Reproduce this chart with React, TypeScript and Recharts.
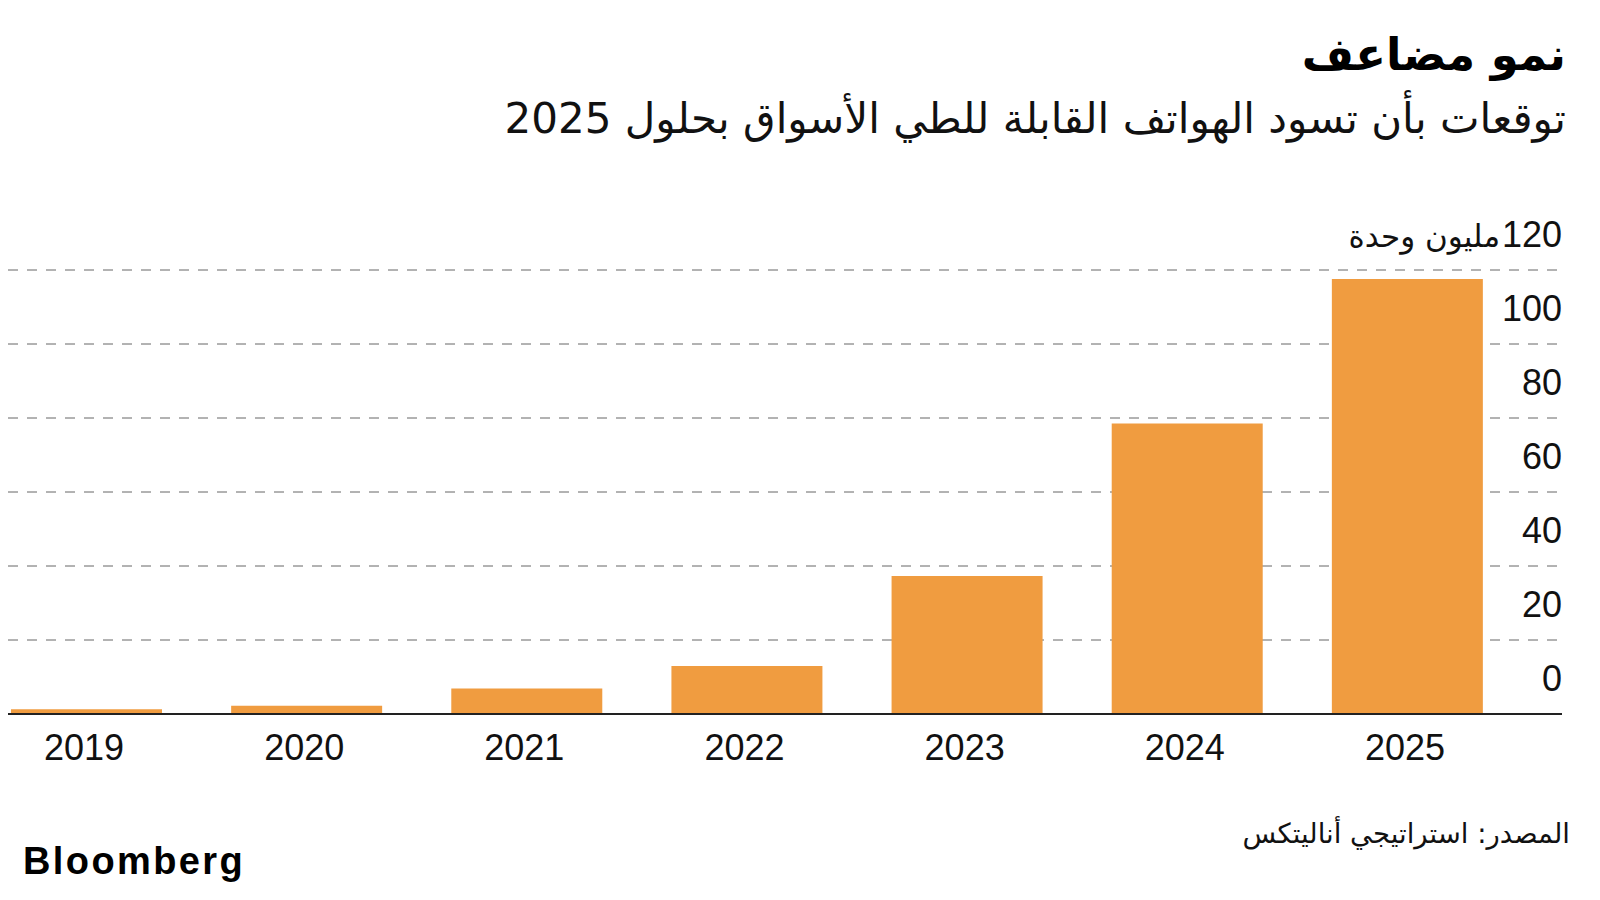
import React from 'react'
import { BarChart, Bar, XAxis, YAxis, CartesianGrid } from 'recharts'

// foldable phone shipments, million units
const years = ['2019', '2020', '2021', '2022', '2023', '2024', '2025']
const units = [1.3, 2.2, 6.9, 13.0, 37.3, 78.5, 117.6]
const yTicks = [0, 20, 40, 60, 80, 100, 120]

const TITLE = 'نمو مضاعف'
const SUBTITLE = 'توقعات بأن تسود الهواتف القابلة للطي الأسواق بحلول 2025'
const UNIT = 'مليون وحدة'
const SOURCE = 'المصدر: استراتيجي أناليتكس'

const LATIN = "'Liberation Sans', Arial, sans-serif"
const ARABIC = "'DejaVu Sans', 'Noto Sans', sans-serif"
const ORANGE = '#F09C40'

const data = years.map((year, i) => ({ year, value: units[i] }))

function YTick(props: any) {
  const { x, y, payload } = props
  const v = payload.value
  return (
    <g>
      <text x={x} y={y - 23} textAnchor="end" fontSize={36} fontFamily={LATIN} fill="#111">
        {v}
      </text>
      {v === 120 && (
        <text x={x - 62} y={y - 23} textAnchor="end" fontSize={31} fontFamily={ARABIC} fill="#111">
          {UNIT}
        </text>
      )}
    </g>
  )
}

function XTick(props: any) {
  const { x, y, payload } = props
  return (
    <text x={x - 2} y={y + 46} textAnchor="middle" fontSize={36} fontFamily={LATIN} fill="#111">
      {payload.value}
    </text>
  )
}

export default function App() {
  return (
    <div style={{ position: 'absolute', top: 0, left: 0, width: 1600, height: 900, background: '#fff' }}>
      <div
        dir="rtl"
        style={{
          position: 'absolute', right: 34, top: 27, fontFamily: ARABIC,
          fontWeight: 700, fontSize: 45, lineHeight: '56px', color: '#000',
        }}
      >
        {TITLE}
      </div>
      <div
        dir="rtl"
        style={{
          position: 'absolute', right: 34, top: 93, fontFamily: ARABIC,
          fontSize: 42, lineHeight: '52px', color: '#111', whiteSpace: 'nowrap',
        }}
      >
        {SUBTITLE}
      </div>

      <BarChart
        width={1600}
        height={900}
        data={data}
        margin={{ top: 270, right: 37, bottom: 185, left: 8 }}
        style={{ position: 'absolute', top: 0, left: 0 }}
      >
        <CartesianGrid vertical={false} stroke="#666" strokeDasharray="10 9" strokeWidth={1} />
        <XAxis
          dataKey="year"
          height={1}
          tick={<XTick />}
          tickLine={false}
          tickSize={0}
          tickMargin={0}
          axisLine={{ stroke: '#222', strokeWidth: 2 }}
          padding={{ left: -32, right: 45 }}
          interval={0}
        />
        <YAxis
          orientation="right"
          domain={[0, 120]}
          ticks={yTicks}
          width={1}
          tick={<YTick />}
          tickLine={false}
          tickSize={0}
          tickMargin={0}
          axisLine={false}
          interval={0}
        />
        <Bar dataKey="value" fill={ORANGE} barSize={151} isAnimationActive={false} />
      </BarChart>

      <div
        dir="rtl"
        style={{
          position: 'absolute', right: 30, top: 813, fontFamily: ARABIC,
          fontSize: 27.5, lineHeight: '40px', color: '#111', whiteSpace: 'nowrap',
        }}
      >
        {SOURCE}
      </div>
      <div
        style={{
          position: 'absolute', left: 23, top: 839, fontFamily: LATIN,
          fontWeight: 700, fontSize: 38, lineHeight: '44px', letterSpacing: 2.4, color: '#000',
        }}
      >
        Bloomberg
      </div>
    </div>
  )
}
